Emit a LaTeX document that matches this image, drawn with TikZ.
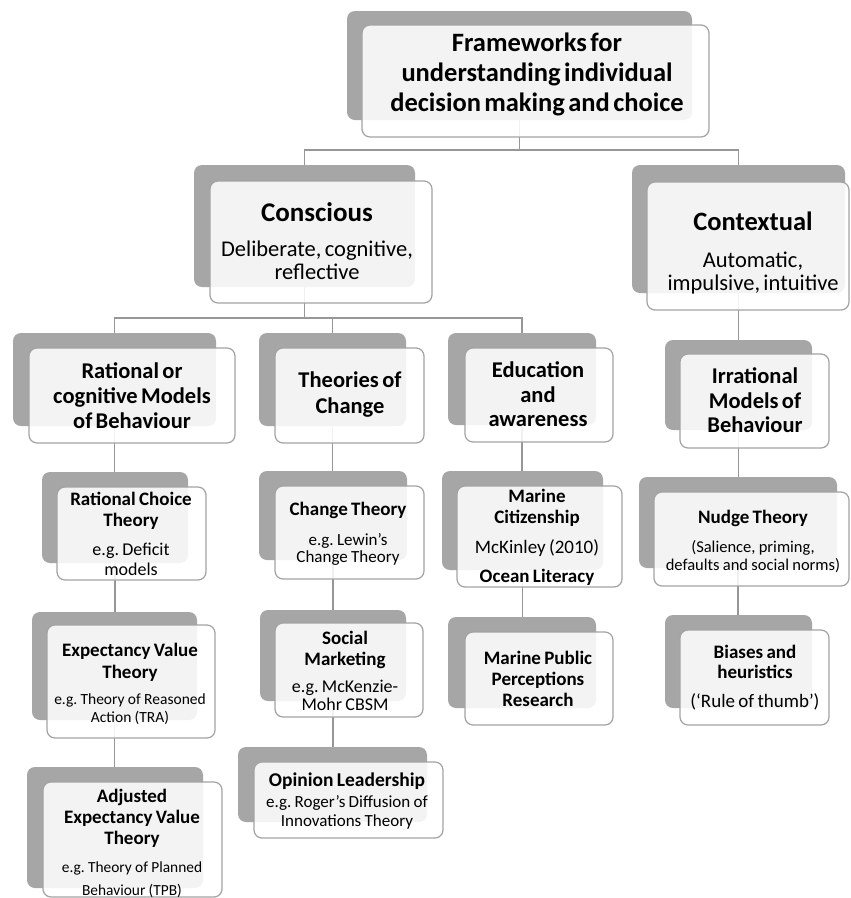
\documentclass[tikz,border=0pt]{standalone}
\usepackage{fontspec}
\setmainfont{Carlito}
\usetikzlibrary{calc}

\definecolor{cardback}{HTML}{A6A6A6}
\definecolor{cardedge}{HTML}{A3A3A3}
\definecolor{linkgray}{HTML}{979797}

% font helpers: size / baselineskip
\newcommand\hdf[2]{\fontsize{#1}{#2}\selectfont\bfseries}
\newcommand\sbf[2]{\fontsize{#1}{#2}\selectfont\mdseries}
\newcommand\gap[1]{\par\vspace{#1pt}}

\tikzset{
  backcard/.style={fill=cardback, draw=none, rounded corners=8pt,
    inner sep=0pt, outer sep=0pt},
  frontcard/.style={fill=white, fill opacity=0.87, draw=cardedge,
    line width=1.2pt, rounded corners=8pt, inner sep=0pt, outer sep=0pt},
  txt/.style={align=center, inner sep=0pt, text=black, font=\frenchspacing},
  link/.style={draw=linkgray, line width=1.8pt}
}

% \card{name}{back x1}{y1}{x2}{y2}{front x1}{y1}{x2}{y2}
\newcommand\card[9]{%
  \node[backcard, minimum width={#4-#2}, minimum height={#5-#3}]
    (#1-b) at ({(#2+#4)/2},{(#3+#5)/2}) {};
  \node[frontcard, minimum width={#8-#6}, minimum height={#9-#7}]
    (#1) at ({(#6+#8)/2},{(#7+#9)/2}) {};
}

\begin{document}
\frenchspacing
\begin{tikzpicture}[x=1pt,y=-1pt]
\useasboundingbox (0,0) rectangle (851,898);
\fill[white] (0,0) rectangle (851,898);

% centres of the back layers; the connectors run through them
\path
  coordinate (top-c)  at (519.5,65)
  coordinate (cons-c) at (304.5,226)
  coordinate (cont-c) at (738.5,229)
  coordinate (rat-c)  at (114.5,380)
  coordinate (toc-c)  at (332.5,380)
  coordinate (edu-c)  at (522,380)
  coordinate (irr-c)  at (738.5,385)
  coordinate (rct-c)  at (115,517)
  coordinate (cht-c)  at (333,515)
  coordinate (mcit-c) at (522.5,520)
  coordinate (nud-c)  at (738,522)
  coordinate (evt-c)  at (114.5,666)
  coordinate (soc-c)  at (333,655)
  coordinate (mpp-c)  at (522,662)
  coordinate (bia-c)  at (738.5,661)
  coordinate (aevt-c) at (115,827)
  coordinate (opl-c)  at (332.5,784);

\coordinate (bus1) at (top-c |- 0,150);
\coordinate (bus2) at (cons-c |- 0,318);

% connectors first, so they sit under the cards
\draw[link] (top-c) -- (bus1);
\draw[link] (bus1) -| (cons-c);
\draw[link] (bus1) -| (cont-c);
\draw[link] (cons-c) -- (bus2);
\draw[link] (bus2) -| (rat-c);
\draw[link] (bus2) -| (toc-c);
\draw[link] (bus2) -| (edu-c);
\draw[link] (cont-c) -- (cont-c |- irr-c);
\draw[link] (rat-c) -- (rat-c |- rct-c);
\draw[link] (rct-c) -- (rct-c |- evt-c);
\draw[link] (evt-c) -- (evt-c |- aevt-c);
\draw[link] (toc-c) -- (toc-c |- cht-c);
\draw[link] (cht-c) -- (cht-c |- soc-c);
\draw[link] (soc-c) -- (soc-c |- opl-c);
\draw[link] (edu-c) -- (edu-c |- mcit-c);
\draw[link] (mcit-c) -- (mcit-c |- mpp-c);
\draw[link] (irr-c) -- (irr-c |- nud-c);
\draw[link] (nud-c) -- (nud-c |- bia-c);

% ---------- cards ----------
\card{top}{347}{11}{692}{120}{362}{25}{709}{137}
\card{cons}{194}{165}{415}{287}{210}{181}{432}{303}
\card{cont}{632}{165}{845}{293}{647}{182}{849}{310}
\card{rat}{13}{333}{216}{426}{29}{348}{235}{443}
\card{toc}{259}{333}{406}{426}{275}{348}{424}{443}
\card{edu}{448}{333}{596}{425}{465}{348}{613}{442}
\card{irr}{665}{340}{812}{430}{680}{354}{829}{448}
\card{rct}{42}{472}{188}{563}{57}{487}{206}{580}
\card{cht}{259}{471}{407}{560}{275}{486}{424}{579}
\card{mcit}{442}{471}{603}{570}{457}{486}{622}{587}
\card{nud}{639}{477}{837}{568}{654}{492}{849}{586}
\card{evt}{32}{612}{197}{720}{47}{625}{215}{738}
\card{soc}{260}{610}{406}{701}{275}{623}{423}{717}
\card{mpp}{448}{617}{596}{708}{465}{632}{613}{725}
\card{bia}{665}{615}{812}{708}{680}{630}{829}{725}
\card{aevt}{27}{767}{203}{888}{43}{782}{222}{897}
\card{opl}{238}{747}{427}{822}{254}{762}{443}{838}

% ---------- texts ----------
\node[txt, text width=340] (top-t) at (537,74)
  {\hdf{26.5}{30}Frameworks for\\understanding individual\\decision making and choice\par};

\node[txt, text width=230] (cons-t) at (317,241)
  {\hdf{27}{30}Conscious\gap{12}\sbf{22.5}{23}Deliberate, cognitive,\\reflective\par};

\node[txt, text width=230] (cont-t) at (753,253)
  {\hdf{26.5}{30}Contextual\gap{14}\sbf{22.5}{23}Automatic,\\impulsive, intuitive\par};

\node[txt, text width=210] (rat-t) at (132,396)
  {\hdf{22.5}{25}Rational or\\cognitive Models\\of Behaviour\par};
\node[txt, text width=160] (toc-t) at (350,395)
  {\hdf{22.5}{26}Theories of\\Change\par};
\node[txt, text width=160] (edu-t) at (538,394.5)
  {\hdf{22.5}{24.5}Education\\and\\awareness\par};
\node[txt, text width=160] (irr-t) at (755,400.5)
  {\hdf{22.5}{24.5}Irrational\\Models of\\Behaviour\par};

\node[txt, text width=160] (rct-t) at (131,534)
  {\hdf{19}{21}Rational Choice\\Theory\gap{9}\sbf{18}{20}e.g. Deficit\\models\par};
\node[txt, text width=160] (cht-t) at (348,534)
  {\hdf{19}{21}Change Theory\gap{12}\sbf{17}{17.5}e.g. Lewin’s\\Change Theory\par};
\node[txt, text width=180] (mcit-t) at (537,537.5)
  {\hdf{19}{21}Marine\\Citizenship\gap{9}\sbf{19}{21}McKinley (2010)\gap{8}\hdf{19}{21}Ocean Literacy\par};
\node[txt, text width=200] (nud-t) at (753,541)
  {\hdf{19}{21}Nudge Theory\gap{11}\sbf{16.5}{18}(Salience, priming,\\defaults and social norms)\par};

\node[txt, text width=180] (evt-t) at (130,684)
  {\hdf{19}{22}Expectancy Value\\Theory\gap{8}\sbf{15.5}{18}e.g. Theory of Reasoned\\Action (TRA)\par};
\node[txt, text width=160] (soc-t) at (345,671)
  {\hdf{19}{21}Social\\Marketing\gap{9}\sbf{18}{18}e.g. McKenzie-\\Mohr CBSM\par};
\node[txt, text width=160] (mpp-t) at (538,678.5)
  {\hdf{19}{21}Marine Public\\Perceptions\\Research\par};
\node[txt, text width=160] (bia-t) at (755,677.5)
  {\hdf{19}{20}Biases and\\heuristics\gap{9}\sbf{19}{20}(‘Rule of thumb’)\par};

\node[txt, text width=190] (aevt-t) at (132,843)
  {\hdf{19}{21}Adjusted\\Expectancy Value\\Theory\gap{5}\sbf{15.4}{23}e.g. Theory of Planned\\Behaviour (TPB)\par};
\node[txt, text width=200] (opl-t) at (347,801)
  {\hdf{19.5}{25}Opinion Leadership\gap{2}\sbf{17}{19}e.g. Roger’s Diffusion of\\Innovations Theory\par};
\end{tikzpicture}
\end{document}
